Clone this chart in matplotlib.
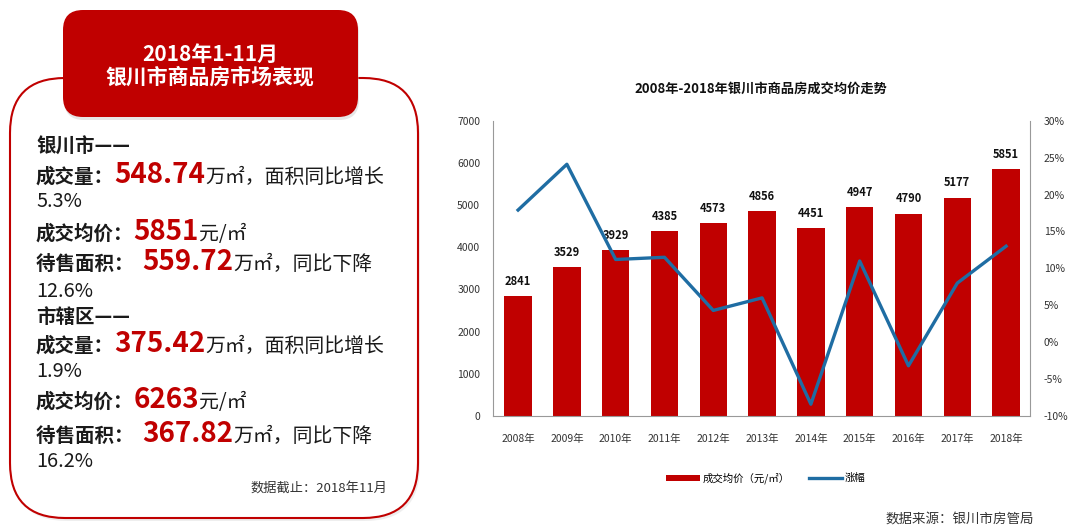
import matplotlib
matplotlib.use('Agg')
import matplotlib.pyplot as plt
from matplotlib.patches import FancyBboxPatch
from matplotlib.ticker import FuncFormatter

plt.rcParams['font.family'] = ['Noto Sans CJK SC', 'DejaVu Sans']

years = ['2008年', '2009年', '2010年', '2011年', '2012年', '2013年',
         '2014年', '2015年', '2016年', '2017年', '2018年']
price = [2841, 3529, 3929, 4385, 4573, 4856, 4451, 4947, 4790, 5177, 5851]
growth = [17.9, 24.1, 11.2, 11.5, 4.3, 6.0, -8.4, 11.0, -3.2, 8.0, 13.0]

header_lines = ['2018年1-11月', '银川市商品房市场表现']
# each line: list of (text, style) pieces
panel_lines = [
    [('银川市——', 'label')],
    [('成交量：', 'label'), ('548.74', 'num'), ('万㎡，面积同比增长', 'plain')],
    [('5.3%', 'plain')],
    [('成交均价：', 'label'), ('5851', 'num'), ('元/㎡', 'plain')],
    [('待售面积：  ', 'label'), ('559.72', 'num'), ('万㎡，同比下降', 'plain')],
    [('12.6%', 'plain')],
    [('市辖区——', 'label')],
    [('成交量：', 'label'), ('375.42', 'num'), ('万㎡，面积同比增长', 'plain')],
    [('1.9%', 'plain')],
    [('成交均价：', 'label'), ('6263', 'num'), ('元/㎡', 'plain')],
    [('待售面积：  ', 'label'), ('367.82', 'num'), ('万㎡，同比下降', 'plain')],
    [('16.2%', 'plain')],
]
panel_baselines = [153, 183, 207, 240, 270, 297, 323, 352, 377, 408, 442, 467]

RED = '#C00000'
BLUE = '#1F6DA3'
DARK = '#1A1A1A'

fig = plt.figure(figsize=(10.8, 5.32), dpi=100)

# ---------- overlay for left panel (pixel coordinates) ----------
ov = fig.add_axes([0, 0, 1, 1])
ov.set_xlim(0, 1080)
ov.set_ylim(532, 0)
ov.axis('off')

# outer rounded box with soft shadow
ov.add_patch(FancyBboxPatch((12, 81), 408, 440, boxstyle='round,pad=0,rounding_size=55',
                            fc='#E4E4E4', ec='none', alpha=0.6, zorder=1))
ov.add_patch(FancyBboxPatch((10, 78), 408, 440, boxstyle='round,pad=0,rounding_size=55',
                            fc='white', ec=RED, lw=1.5, zorder=2))
# header box
ov.add_patch(FancyBboxPatch((64, 13), 295, 107, boxstyle='round,pad=0,rounding_size=20',
                            fc='#C8C8C8', ec='none', alpha=0.45, zorder=3))
ov.add_patch(FancyBboxPatch((63, 10), 295, 107, boxstyle='round,pad=0,rounding_size=20',
                            fc=RED, ec='none', zorder=4))
ov.text(210, 61, header_lines[0], color='white', fontsize=15, fontweight='bold',
        ha='center', va='baseline', zorder=5)
ov.text(210, 84, header_lines[1], color='white', fontsize=15, fontweight='bold',
        ha='center', va='baseline', zorder=5)

styles = {
    'label': dict(fontsize=14, fontweight='bold', color=DARK),
    'num': dict(fontsize=20, fontweight='bold', color=RED),
    'plain': dict(fontsize=14.3, color=DARK),
}

renderer = fig.canvas.get_renderer()
for pieces, yb in zip(panel_lines, panel_baselines):
    x = 36
    for txt, st in pieces:
        t = ov.text(x, yb, txt, va='baseline', ha='left', zorder=5, **styles[st])
        x += t.get_window_extent(renderer).width

ov.text(387, 492, '数据截止：2018年11月', fontsize=9.5, color='#333333',
        ha='right', va='baseline', zorder=5)

# ---------- chart ----------
ax = fig.add_axes([492.7 / 1080, (532 - 416) / 532, 537.3 / 1080, 295.3 / 532])
xs = list(range(len(years)))
ax.bar(xs, price, width=0.56, color=RED, zorder=2, label='成交均价（元/㎡）')
ax.set_xlim(-0.52, 10.49)
ax.set_ylim(0, 7000)
ax.set_yticks(range(0, 7001, 1000))
ax.set_xticks(xs)
ax.set_xticklabels(years)
ax.tick_params(axis='both', length=0, labelsize=7.5, colors='#333333')
ax.tick_params(axis='x', pad=13)
ax.tick_params(axis='y', pad=9)
for sp in ['top', 'right']:
    ax.spines[sp].set_visible(False)
for sp in ['left', 'bottom']:
    ax.spines[sp].set_color('#999999')
for xi, v in zip(xs, price):
    ax.text(xi, v + 200, str(v), ha='center', va='bottom', fontsize=8,
            fontweight='bold', color='#111111', zorder=3)

ax2 = ax.twinx()
ax2.plot(xs, growth, color=BLUE, lw=2.4, zorder=4, label='涨幅')
ax2.set_ylim(-10, 30)
ax2.set_yticks(range(-10, 31, 5))
ax2.yaxis.set_major_formatter(FuncFormatter(lambda v, p: f'{v:.0f}%'))
ax2.tick_params(axis='y', length=0, pad=10, labelsize=7.5, colors='#333333')
for sp in ['top', 'left', 'bottom']:
    ax2.spines[sp].set_visible(False)
ax2.spines['right'].set_color('#999999')

fig.text(761 / 1080, 1 - 89 / 532, '2008年-2018年银川市商品房成交均价走势',
         ha='center', va='center', fontsize=9.5, fontweight='bold', color='#111111')

h1, l1 = ax.get_legend_handles_labels()
h2, l2 = ax2.get_legend_handles_labels()
fig.legend(h1 + h2, l1 + l2, loc='center', bbox_to_anchor=(766 / 1080, 1 - 478 / 532),
           ncol=2, frameon=False, fontsize=7.5, handlelength=3.2, handleheight=0.5,
           handletextpad=0.3, columnspacing=1.8)

fig.text(1034 / 1080, 1 - 520 / 532, '数据来源：银川市房管局', ha='right', va='center',
         fontsize=9.7, color='#333333')

fig.savefig('out.png', dpi=100)
